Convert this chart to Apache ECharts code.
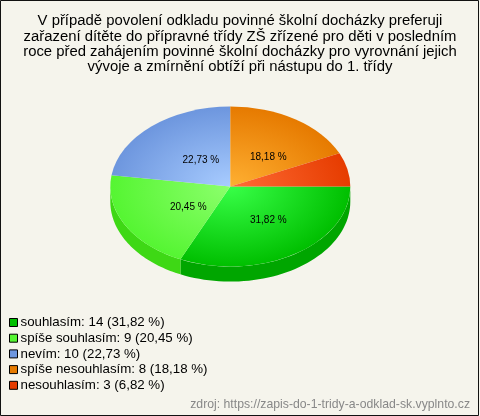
<!DOCTYPE html>
<html><head><meta charset="utf-8">
<style>html,body{margin:0;padding:0;background:#f5f4ec}#c{width:480px;height:416px}</style>
<script src="https://cdn.jsdelivr.net/npm/echarts@6/dist/echarts.min.js"></script>
</head><body><div id="c"></div>
<script>
const categories = ['souhlasím','spíše souhlasím','nevím','spíše nesouhlasím','nesouhlasím'];
const values = [14,9,10,8,3];
const edgeColors = ['#00bf00','#55f532','#6d96de','#e67a00','#e63c00'];
const centerColors = ['#38ff48','#8cff6c','#a8ccff','#ffb032','#ff6c36'];
const sideColors = ['#00a600','#3ed815','#5d80c0','#c06600','#c03000'];
const titleLines = [
 'V případě povolení odkladu povinné školní docházky preferuji',
 'zařazení dítěte do přípravné třídy ZŠ zřízené pro děti v posledním',
 'roce před zahájením povinné školní docházky pro vyrovnání jejich',
 'vývoje a zmírnění obtíží při nástupu do 1. třídy'];
const sourceText = 'zdroj: https://zapis-do-1-tridy-a-odklad-sk.vyplnto.cz';

const total = values.reduce((a,b)=>a+b,0);
const pct = v => (v/total*100).toFixed(2).replace('.',',')+' %';
const CX=230.3, CY=186.6, RX=120, RY=80, DEPTH=15;
const FONT='"Liberation Sans", Arial, sans-serif';

function slice(i){
  const before = values.slice(0,i).reduce((a,b)=>a+b,0);
  return {a0: before/total*2*Math.PI, a1:(before+values[i])/total*2*Math.PI};
}
function makeRender(i){
  return function(){
    const {a0,a1}=slice(i);
    const children=[];
    const s0=a0, s1=Math.min(a1,Math.PI);
    if(s0<s1){
      const up=[],down=[];
      for(let k=0;k<=48;k++){
        const a=s0+(s1-s0)*k/48;
        up.push([CX+RX*Math.cos(a),CY+RY*Math.sin(a)]);
        down.unshift([CX+RX*Math.cos(a),CY+DEPTH+RY*Math.sin(a)]);
      }
      children.push({type:'polygon',shape:{points:up.concat(down)},style:{fill:sideColors[i]}});
    }
    children.push({type:'sector',
      originX:CX,originY:CY,scaleY:RY/RX,
      shape:{cx:CX,cy:CY,r:RX,r0:0,startAngle:a0,endAngle:a1,clockwise:true},
      style:{fill:new echarts.graphic.RadialGradient(CX,CY,RX,[
        {offset:0,color:centerColors[i]},{offset:1,color:edgeColors[i]}],true)}});
    if(values[i]/total>=0.1){
      const m=(a0+a1)/2;
      children.push({type:'text',z2:10,style:{
        x:CX+7.5+0.47*RX*Math.cos(m), y:CY+2.5+0.47*RY*Math.sin(m),
        text:pct(values[i]),fill:'#000',font:'10px '+FONT,align:'center',verticalAlign:'middle'}});
    }
    return {type:'group',children};
  };
}
const chart=echarts.init(document.getElementById('c'),null,{renderer:'canvas'});
chart.setOption({
  animation:false,
  backgroundColor:'#f5f4ec',
  title:{text:titleLines.join('\n'),left:235,top:8.5,textAlign:'center',
    textStyle:{fontFamily:FONT,fontSize:14.87,fontWeight:'normal',color:'#000',lineHeight:15.33}},
  legend:{orient:'vertical',left:9,top:316,itemWidth:8,itemHeight:8,itemGap:2.7,icon:'rect',
    itemStyle:{borderColor:'#000',borderWidth:1},
    selectedMode:false,
    textStyle:{fontFamily:FONT,fontSize:13.3,color:'#000',padding:[0,0,0,-2]},
    padding:0,
    data:categories,
    formatter:n=>{const i=categories.indexOf(n);return n+': '+values[i]+' ('+pct(values[i])+')';}},
  graphic:[
    {type:'rect',z:100,shape:{x:0.5,y:0.5,width:478,height:415},style:{fill:'none',stroke:'#111',lineWidth:1}},
    {type:'text',z:100,right:10,top:399,style:{text:sourceText,fill:'#888',font:'12.25px '+FONT}}
  ],
  series:categories.map((name,i)=>({
    type:'custom',name,coordinateSystem:'none',silent:true,
    itemStyle:{color:edgeColors[i]},
    data:[[values[i]]],
    renderItem:makeRender(i)
  }))
});
</script></body></html>
